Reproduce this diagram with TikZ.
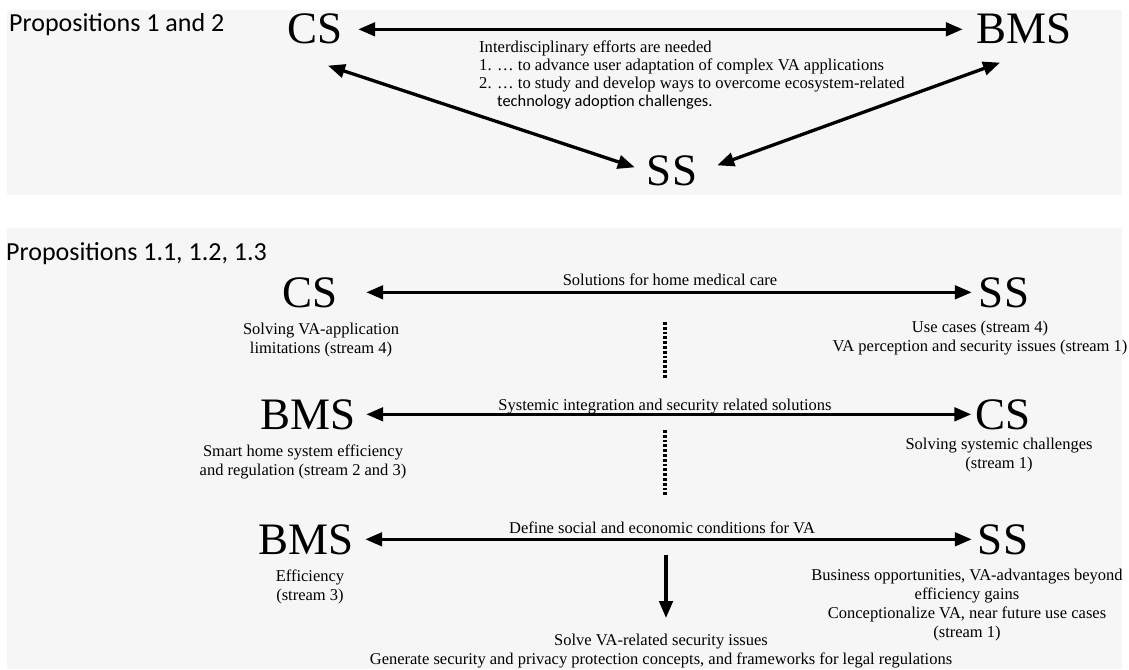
\documentclass[tikz,border=0pt]{standalone}
\usepackage{fontspec}
\usetikzlibrary{arrows.meta}
\newfontfamily\tnrfont{Liberation Serif}
\newfontfamily\calfont{Carlito}
\definecolor{panel}{HTML}{F6F6F6}
\begin{document}
\begin{tikzpicture}[x=1pt,y=-1pt,
  big/.style={font=\tnrfont\fontsize{45}{50}\selectfont, inner sep=0pt, anchor=base},
  capt/.style={font=\tnrfont\fontsize{16.5}{19}\selectfont, inner sep=0pt, align=center, anchor=north},
  lbl/.style={font=\tnrfont\fontsize{16.5}{19}\selectfont, inner sep=0pt, anchor=base},
  head/.style={font=\calfont\fontsize{26}{30}\selectfont, inner sep=0pt, anchor=base west},
  biarrow/.style={line width=3.3pt, {Triangle[length=17pt,width=13.5pt]}-{Triangle[length=17pt,width=13.5pt]}},
  downarrow/.style={line width=3.3pt, -{Triangle[length=17pt,width=13.5pt]}},
  dotline/.style={line width=3.6pt, dash pattern=on 2.8pt off 2pt},
]
\useasboundingbox (0,0) rectangle (1129,669);
\fill[white] (0,0) rectangle (1129,669);
\fill[panel] (7,10) rectangle (1122,195);
\fill[panel] (7,228) rectangle (1122,669);

% ---------- top panel ----------
\node[head] (h1) at (9,32) {Propositions 1 and 2};
\node[big] (csA) at (315,44) {CS};
\node[big] (bmsA) at (1024,44) {BMS};
\node[big] (ssA) at (672,185) {SS};
\node[font=\tnrfont\fontsize{16.6}{18}\selectfont, inner sep=0pt, align=left, anchor=north west] (txtA) at (479,39)
  {\rule{0pt}{13pt}Interdisciplinary efforts are needed\\
   1. … to advance user adaptation of complex VA applications\\
   2. … to study and develop ways to overcome ecosystem-related\\
   \hspace*{18pt}{\calfont\fontsize{16.4}{18}\selectfont technology adoption challenges.}};
\draw[biarrow] ([xshift=15.5pt]csA.east) -- ([xshift=-13.5pt]bmsA.west);
\draw[biarrow] ([shift={(13,21)}]csA.south) -- ([shift={(-12,-3)}]ssA.west);
\draw[biarrow] ([shift={(20,-5)}]ssA.east) -- ([shift={(-24,18)}]bmsA.south);

% ---------- bottom panel ----------
\node[head] (h2) at (6,260) {Propositions 1.1, 1.2, 1.3};

\node[big] (cs1) at (310,307) {CS};
\node[big] (ss1) at (1004,307) {SS};
\node[big] (bms2) at (308,429) {BMS};
\node[big] (cs2) at (1003,429) {CS};
\node[big] (bms3) at (306,554) {BMS};
\node[big] (ss3) at (1003,554) {SS};

\draw[biarrow] ([xshift=28.5pt]cs1.east) -- ([xshift=-7pt]ss1.west);
\draw[biarrow] ([xshift=10.5pt]bms2.east) -- ([xshift=-4pt]cs2.west);
\draw[biarrow] ([xshift=11.5pt]bms3.east) -- ([xshift=-6pt]ss3.west);

\node[lbl] (l1) at (670,285) {Solutions for home medical care};
\node[lbl] (l2) at (665,410) {Systemic integration and security related solutions};
\node[lbl] (l3) at (662,533) {Define social and economic conditions for VA};

\node[capt] (c1) at (321,321) {\rule{0pt}{13pt}Solving VA-application\\limitations (stream 4)};
\node[capt] (c2) at (980,319) {\rule{0pt}{13pt}Use cases (stream 4)\\VA perception and security issues (stream 1)};
\node[capt] (c3) at (303,443) {\rule{0pt}{13pt}Smart home system efficiency\\and regulation (stream 2 and 3)};
\node[capt] (c4) at (999,436) {\rule{0pt}{13pt}Solving systemic challenges\\(stream 1)};
\node[capt] (c5) at (310,568) {\rule{0pt}{13pt}Efficiency\\(stream 3)};
\node[capt] (c6) at (967,567) {\rule{0pt}{13pt}Business opportunities, VA-advantages beyond\\efficiency gains\\Conceptionalize VA, near future use cases\\(stream 1)};
\node[capt] (solve) at (661,632) {\rule{0pt}{13pt}Solve VA-related security issues\\Generate security and privacy protection concepts, and frameworks for legal regulations};

\coordinate (d1a) at (665,322);
\coordinate (d1b) at (665,378);
\coordinate (d2a) at (665,430);
\coordinate (d2b) at (665,497);
\draw[dotline] (d1a) -- (d1b);
\draw[dotline] (d2a) -- (d2b);

\coordinate (dstart) at (666,555);
\coordinate (dend) at (dstart |- solve.north);
\draw[downarrow] (dstart) -- ([yshift=14pt]dend);
\end{tikzpicture}
\end{document}
